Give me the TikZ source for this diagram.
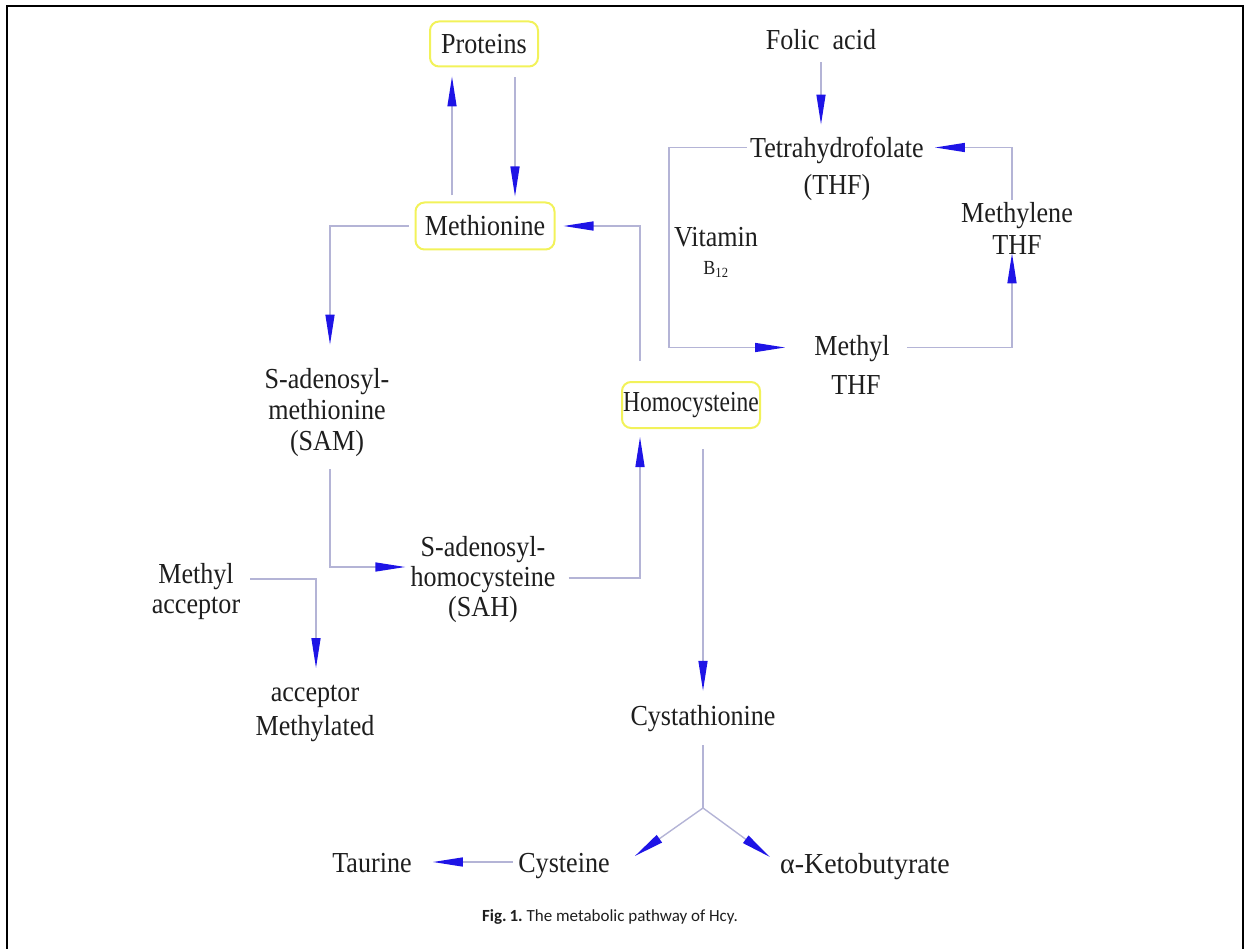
\documentclass[tikz,border=0pt]{standalone}
\usepackage{fontspec}
\setmainfont{Liberation Serif}[FakeStretch=0.9]
\newfontfamily\capfont{Carlito}
\usetikzlibrary{arrows.meta}
\definecolor{txtcol}{HTML}{1E1E1E}
\definecolor{linecol}{HTML}{B4B4D6}
\definecolor{tipblue}{HTML}{1E14E6}
\definecolor{boxyellow}{HTML}{F2F25A}
\newcommand{\mainfs}{\fontsize{29}{31}\selectfont}
\begin{document}
\begin{tikzpicture}[x=1pt,y=-1pt,
  txt/.style={font=\mainfs, inner sep=0pt, align=center, text=txtcol},
  one/.style={txt, text height=20pt, text depth=6pt, anchor=base},
  ybox/.style={txt, draw=boxyellow, line width=2pt, rounded corners=9pt},
  ln/.style={draw=linecol, line width=1.4pt},
  arr/.style={ln, -{Triangle[length=30pt,width=9pt,color=tipblue]}}]
\useasboundingbox (0,0) rectangle (1246,949);
% frame
\draw[line width=2.5pt, black] (7,949) -- (7,6) -- (1243,6) -- (1243,949);
% nodes
\node[ybox, minimum width=108pt, minimum height=45pt] (prot) at (484,44) {Proteins};
\node[one] (folic) at (821,50) {Folic\ \ acid};
\node[txt] (thf) at (837,168.5) {Tetrahydrofolate\\[6pt](THF)};
\node[ybox, minimum width=139pt, minimum height=47pt] (meth) at (485,226) {Methionine};
\node[txt] (vit) at (716,252) {Vitamin\\[-3pt]{\fontsize{20}{20}\selectfont B\textsubscript{12}}};
\node[txt] (mlthf) at (1017,228) {Methylene\\[1pt]THF};
\node[txt] (mthf) at (852,364.5) {Methyl\\[8pt]\hspace*{8pt}THF};
\node[txt] (sam) at (327,413) {S-adenosyl-\\methionine\\(SAM)};
\node[ybox, minimum width=138pt, minimum height=46pt] (hcy) at (691,405) {\scalebox{0.9}[1]{Homocysteine}};
\node[txt] (sah) at (483,580) {S-adenosyl-\\[-1pt]homocysteine\\[-1pt](SAH)};
\node[txt] (macc) at (196,592) {Methyl\\[-1pt]acceptor};
\node[txt] (mated) at (315,713.5) {acceptor\\[3pt]Methylated};
\node[one] (cysta) at (703,725) {Cystathionine};
\coordinate (fork) at (703,808);
\node[one] (taur) at (372,872) {Taurine};
\node[one] (cyst) at (564,872) {Cysteine};
\node[one] (keto) at (865,873) {\scalebox{1.07}[1]{α-Ketobutyrate}};
\node[font=\capfont\fontsize{17}{19}\selectfont, text=txtcol, anchor=base, inner sep=0pt] (cap) at (610,921) {\textbf{Fig.\,1.}\ The metabolic pathway of Hcy.};
% connectors
\draw[arr] ([xshift=-33pt,yshift=6pt]meth.north) -- ([xshift=-32pt,yshift=-9pt]prot.south);
\draw[arr] ([xshift=31pt,yshift=-10pt]prot.south) -- ([xshift=30pt,yshift=5pt]meth.north);
\draw[arr] ([xshift=-51pt,yshift=20pt]hcy.north) |- ([xshift=8pt]meth.east);
\draw[arr] ([xshift=-6pt]meth.west) -| ([xshift=3pt,yshift=24pt]sam.north);
\draw[arr] ([xshift=3pt,yshift=-12pt]sam.south) |- ([xshift=-5pt,yshift=13pt]sah.west);
\draw[arr] ([xshift=13pt,yshift=2pt]sah.east) -| ([xshift=-51pt,yshift=-8pt]hcy.south);
\draw[arr] ([xshift=12pt,yshift=-20pt]hcy.south) -- ([yshift=14pt]cysta.north);
\draw[ln] ([yshift=-14pt]cysta.south) -- (fork);
\draw[arr] (fork) -- ([xshift=25pt,yshift=9pt]cyst.east);
\draw[arr] (fork) -- ([xshift=-10pt,yshift=9pt]keto.west);
\draw[arr] ([xshift=-5pt,yshift=3pt]cyst.west) -- ([xshift=21pt,yshift=3pt]taur.east);
\draw[arr] ([xshift=10pt,yshift=13pt]macc.east) -| ([xshift=1pt,yshift=17pt]mated.north);
\draw[arr] ([yshift=-6pt]folic.south) -- ([xshift=-16pt,yshift=12pt]thf.north);
\draw[arr] ([xshift=-3pt,yshift=21pt]thf.west) -- ++(-78,0) |- ([xshift=-29pt,yshift=17pt]mthf.west);
\draw[arr] ([xshift=17pt,yshift=17pt]mthf.east) -| ([xshift=-5pt,yshift=1pt]mlthf.south);
\draw[arr] ([xshift=-5pt,yshift=2pt]mlthf.north) |- ([xshift=11pt,yshift=21pt]thf.east);
\end{tikzpicture}
\end{document}
